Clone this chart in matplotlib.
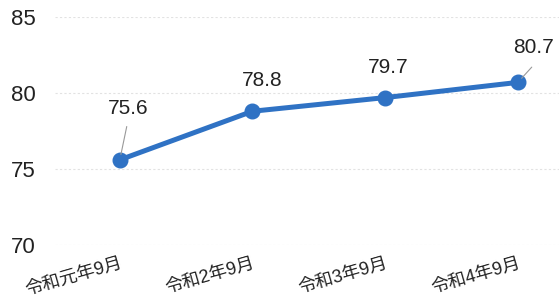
"""
Line chart of yearly values (令和元年〜令和4年 9月)
"""
import matplotlib
matplotlib.use("Agg")
from matplotlib import pyplot as plt

plt.rcParams['font.family'] = ['Liberation Sans', 'Noto Sans CJK JP', 'DejaVu Sans']

periods = ["令和元年9月", "令和2年9月", "令和3年9月", "令和4年9月"]
values = [75.6, 78.8, 79.7, 80.7]
y_ticks = [70, 75, 80, 85]

blue = "#2f72c4"

fig = plt.figure(figsize=(5.59, 3.05), dpi=100)
ax = fig.add_axes([0.098, 0.197, 0.902, 0.747])

xs = list(range(len(periods)))
ax.plot(xs, values, color=blue, linewidth=3.6, marker="o", markersize=10.5,
        markerfacecolor=blue, markeredgecolor=blue, zorder=3)

# value labels (first and last ones with small leader lines)
label_offsets = [(6, 30), (7, 15), (2, 15), (11, 18)]
for i, (x, v) in enumerate(zip(xs, values)):
    dx, dy = label_offsets[i]
    ax.annotate(f"{v}", xy=(x, v), xytext=(dx, dy), textcoords="offset points",
                ha="center", va="bottom", fontsize=15, color="#222222")
ax.annotate("", xy=(0, values[0]), xytext=(5, 24), textcoords="offset points",
            arrowprops=dict(arrowstyle="-", color="#999999", lw=0.8, shrinkA=0, shrinkB=4))
ax.annotate("", xy=(3, values[3]), xytext=(10, 11), textcoords="offset points",
            arrowprops=dict(arrowstyle="-", color="#999999", lw=0.8, shrinkA=0, shrinkB=4))

ax.set_ylim(70, 85)
ax.set_yticks(y_ticks)
ax.set_yticklabels([str(t) for t in y_ticks], fontsize=16, color="#222222")
ax.set_xlim(-0.49, 3.31)
ax.set_xticks(xs)
ax.set_xticklabels(periods, fontsize=13, rotation=16, ha="right",
                   rotation_mode="anchor", color="#222222")

ax.grid(axis="y", color="#e2e2e2", linestyle=(0, (2, 2)), linewidth=0.8)
ax.tick_params(axis="y", length=0, pad=14)
ax.tick_params(axis="x", length=0, pad=7)
for s in ax.spines.values():
    s.set_visible(False)

plt.savefig("out.png", dpi=100)
